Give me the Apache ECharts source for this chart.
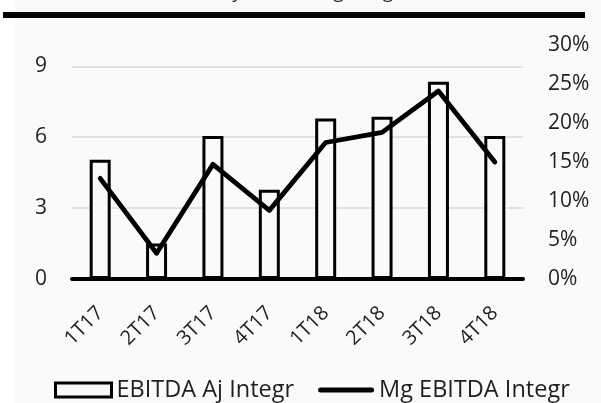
<!DOCTYPE html>
<html>
<head>
<meta charset="utf-8">
<script src="https://cdn.jsdelivr.net/npm/echarts@6/dist/echarts.min.js"></script>
<style>
html,body{margin:0;padding:0;background:#ffffff;}
#chart{width:601px;height:403px;}
</style>
</head>
<body>
<div id="chart"></div>
<script>
var categories = ['1T17','2T17','3T17','4T17','1T18','2T18','3T18','4T18'];
var ebitdaAj = [5.04, 1.50, 6.05, 3.78, 6.79, 6.86, 8.34, 6.05];
var mgEbitda = [0.129, 0.033, 0.147, 0.088, 0.175, 0.188, 0.241, 0.150];
var leftTicks = [0, 3, 6, 9];
var rightTicks = [0, 0.05, 0.10, 0.15, 0.20, 0.25, 0.30];
var seriesNames = ['EBITDA Aj Integr', 'Mg EBITDA Integr'];
var titleText = 'EBITDA y EBITDA Mg Integr';

var FONT = '"Open Sans", "DejaVu Sans", sans-serif';
var TXT = '#1f1f1f';
var chart = echarts.init(document.getElementById('chart'), null, {renderer: 'canvas'});
chart.setOption({
  backgroundColor: '#fafafa',
  animation: false,
  textStyle: {fontFamily: FONT},
  graphic: [
    {type: 'rect', left: 0, top: 0, shape: {width: 15, height: 403}, style: {fill: '#ffffff'}, z: -1},
    {type: 'text', left: 163, top: -17, style: {text: titleText, font: '19px ' + FONT, fill: TXT}},
    {type: 'line', shape: {x1: 3, y1: 15, x2: 585, y2: 15}, style: {stroke: '#000000', lineWidth: 6}}
  ],
  grid: {left: 72, right: 78, top: 45, bottom: 124, containLabel: false},
  legend: {
    left: 49, top: 373, padding: 5,
    itemWidth: 56, itemHeight: 14, itemGap: 24,
    textStyle: {fontSize: 23.5, color: TXT, fontFamily: FONT},
    data: [
      {name: seriesNames[0], icon: 'rect', itemStyle: {color: '#fafafa', borderColor: '#000', borderWidth: 3}},
      {name: seriesNames[1], icon: 'path://M0,0 L0.01,0 L0.01,0.01 Z M2.5,4.5 L53.5,4.5 A2.5,2.5 0 0 1 53.5,9.5 L2.5,9.5 A2.5,2.5 0 0 1 2.5,4.5 Z M0,14 L0.01,14 L0.01,13.99 Z',
       itemStyle: {color: '#000000', borderWidth: 0}}
    ]
  },
  xAxis: {
    type: 'category',
    data: categories,
    boundaryGap: true,
    axisLine: {show: true, lineStyle: {color: '#000000', width: 4}},
    axisTick: {show: false},
    axisLabel: {rotate: 45, margin: 31, fontSize: 20, color: TXT, fontFamily: FONT, interval: 0}
  },
  yAxis: [
    {
      type: 'value', min: leftTicks[0], max: 9.9, interval: leftTicks[1] - leftTicks[0],
      axisLine: {show: false}, axisTick: {show: false},
      axisLabel: {fontSize: 21, color: TXT, margin: 25, showMaxLabel: false, fontFamily: FONT},
      splitLine: {show: true, showMinLine: false, showMaxLine: false, lineStyle: {color: '#d9d9d9', width: 1.5}}
    },
    {
      type: 'value', min: rightTicks[0], max: rightTicks[rightTicks.length - 1], interval: rightTicks[1] - rightTicks[0],
      position: 'right',
      axisLine: {show: false}, axisTick: {show: false},
      axisLabel: {fontSize: 21, color: TXT, margin: 25, fontFamily: FONT,
        formatter: function (v) { return Math.round(v * 100) + '%'; }},
      splitLine: {show: false}
    }
  ],
  series: [
    {
      name: seriesNames[0], type: 'bar', yAxisIndex: 0, data: ebitdaAj,
      barWidth: 21,
      itemStyle: {color: '#fafafa', borderColor: '#000000', borderWidth: 3}
    },
    {
      name: seriesNames[1], type: 'line', yAxisIndex: 1, data: mgEbitda,
      symbol: 'none', showSymbol: false,
      lineStyle: {color: '#000000', width: 4.8, cap: 'round', join: 'round'},
      itemStyle: {color: '#000000'}
    }
  ]
});
</script>
</body>
</html>
